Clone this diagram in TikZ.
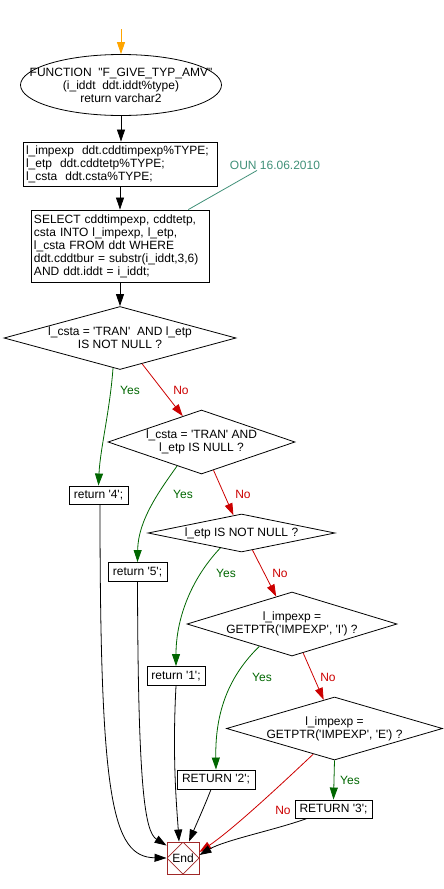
\documentclass[tikz,border=0pt]{standalone}
\usepackage{fontspec}
\setmainfont{Liberation Sans}[Ligatures=TeXOff]
\usetikzlibrary{shapes.geometric,arrows.meta,calc}
\definecolor{yesgreen}{RGB}{0,102,0}
\definecolor{nored}{RGB}{204,0,0}
\definecolor{startorange}{RGB}{255,165,0}
\definecolor{noteteal}{RGB}{64,144,120}
\definecolor{endred}{RGB}{160,40,40}
\begin{document}
\begin{tikzpicture}[x=1pt,y=-1pt,
  font=\fontsize{12}{13}\selectfont,
  box/.style={draw, line width=0.9pt, inner sep=0pt, align=center},
  lbox/.style={draw, line width=0.9pt, inner xsep=3pt, inner ysep=0pt, align=left},
  dia/.style={draw, diamond, line width=0.8pt, inner sep=0pt},
  conn/.style={line width=0.8pt, -{Triangle[length=12pt,width=8pt]}},
  yes/.style={conn, yesgreen},
  no/.style={conn, nored},
  ylab/.style={text=yesgreen, inner sep=1pt},
  nlab/.style={text=nored, inner sep=1pt},
]
\useasboundingbox (0,0) rectangle (444,889);

% start
\coordinate (start) at (121,29);
\node[draw, ellipse, line width=0.8pt, minimum width=201pt, minimum height=61pt, inner sep=0pt,
  label={[align=center]center:{FUNCTION~ "F\_GIVE\_TYP\_AMV"\\(i\_iddt~ ddt.iddt\%type)\\return varchar2}}] (fn) at (121,85) {};

\node[lbox, minimum width=194pt, minimum height=44pt, text width=188pt] (box1) at (120,164)
  {l\_impexp~ ddt.cddtimpexp\%TYPE;\\l\_etp~ ddt.cddtetp\%TYPE;\\l\_csta~ ddt.csta\%TYPE;};

\node[lbox, minimum width=178pt, minimum height=72pt, text width=172pt] (box2) at (120,246)
  {SELECT cddtimpexp, cddtetp,\\csta INTO l\_impexp, l\_etp,\\l\_csta FROM ddt WHERE\\ddt.cddtbur = substr(i\_iddt,3,6)\\AND ddt.iddt = i\_iddt;};

\node[text=noteteal, inner sep=1pt] (note) at (275,165) {OUN 16.06.2010};

% decisions
\node[dia, minimum width=232pt, minimum height=63pt,
  label={[align=center]center:{l\_csta = 'TRAN'~ AND l\_etp\\IS NOT NULL ?}}] (d1) at (120,338) {};
\node[dia, minimum width=187pt, minimum height=64pt,
  label={[align=center]center:{l\_csta = 'TRAN' AND\\l\_etp IS NULL ?}}] (d2) at (201.5,442) {};
\node[dia, minimum width=187pt, minimum height=38pt,
  label={[align=center]center:{l\_etp IS NOT NULL ?}}] (d3) at (241.5,533) {};
\node[dia, minimum width=210pt, minimum height=64pt,
  label={[align=center]center:{l\_impexp =\\GETPTR('IMPEXP', 'I') ?}}] (d4) at (292,624) {};
\node[dia, minimum width=216pt, minimum height=63pt,
  label={[align=center]center:{l\_impexp =\\GETPTR('IMPEXP', 'E') ?}}] (d5) at (334.5,728.5) {};

% returns
\node[box, minimum width=59pt, minimum height=18pt] (ret4) at (98.5,495) {return '4';};
\node[box, minimum width=59pt, minimum height=19pt] (ret5) at (137.5,572) {return '5';};
\node[box, minimum width=58pt, minimum height=19pt] (ret1) at (176,676) {return '1';};
\node[box, minimum width=78pt, minimum height=19pt] (ret2) at (216,779.5) {RETURN '2';};
\node[box, minimum width=77pt, minimum height=18pt] (ret3) at (333.5,809) {RETURN '3';};

% end
\node[draw=endred, line width=0.9pt, minimum size=32pt, inner sep=0pt,
  path picture={\draw[endred, line width=0.7pt] (path picture bounding box.north) -- (path picture bounding box.east) -- (path picture bounding box.south) -- (path picture bounding box.west) -- cycle;}] (end) at (183,858) {End};

% main flow
\draw[conn, startorange] (start) -- (fn.north);
\draw[conn] (fn.south) -- (fn.south |- box1.north);
\draw[conn] (box1.south) -- (box2.north);
\draw[conn] (box2.south) -- (d1.north);
\draw[noteteal, line width=0.8pt] ([xshift=-18pt]note.south) -- ($(box2.north west)!0.882!(box2.north east)$);

% d1
\draw[yes] ($(d1.south)!0.06!(d1.west)$) .. controls (110,410) and (100,450) .. (ret4.north);
\draw[no] ($(d1.south)!0.19!(d1.east)$) -- ($(d2.north)!0.2!(d2.west)$);
\node[ylab] (y1) at (130,390) {Yes};
\node[nlab] (n1) at (181,390) {No};
% d2
\draw[yes] ($(d2.south)!0.26!(d2.west)$) .. controls (160,490) and (138,520) .. (ret5.north);
\draw[no] ($(d2.south)!0.128!(d2.east)$) -- ($(d3.north)!0.086!(d3.west)$);
\node[ylab] (y2) at (183,494) {Yes};
\node[nlab] (n2) at (243,494) {No};
% d3
\draw[yes] ($(d3.south)!0.226!(d3.west)$) .. controls (190,580) and (176,620) .. (ret1.north);
\draw[no] ($(d3.south)!0.117!(d3.east)$) -- ($(d4.north)!0.15!(d4.west)$);
\node[ylab] (y3) at (226,573) {Yes};
\node[nlab] (n3) at (280,573) {No};
% d4
\draw[yes] ($(d4.south)!0.31!(d4.west)$) .. controls (230,675) and (215,710) .. (ret2.north);
\draw[no] ($(d4.south)!0.106!(d4.east)$) -- ($(d5.north)!0.1!(d5.west)$);
\node[ylab] (y4) at (262,677) {Yes};
\node[nlab] (n4) at (328,677) {No};
% d5
\draw[yes] (d5.south) -- (ret3.north);
\draw[no] ($(d5.south)!0.196!(d5.west)$) .. controls (290,776) and (235,828) .. ([yshift=6pt]end.east);
\node[ylab] (y5) at (350,780) {Yes};
\node[nlab] (n5) at (283,810) {No};

% to end
\draw[conn] ([xshift=1.5pt]ret4.south) .. controls (100,800) and (112,857) .. (end.west);
\draw[conn] (ret5.south) .. controls (138,790) and (145,832) .. ([yshift=-4pt]end.north west);
\draw[conn] (ret1.south) .. controls (172,760) and (177,810) .. ([xshift=-4pt]end.north);
\draw[conn] ([xshift=-5pt]ret2.south) .. controls (205,805) and (196,825) .. ([xshift=6pt]end.north);
\draw[conn] ([xshift=-26.5pt]ret3.south) .. controls (275,830) and (225,840) .. ([yshift=3pt]end.east);
\end{tikzpicture}
\end{document}
